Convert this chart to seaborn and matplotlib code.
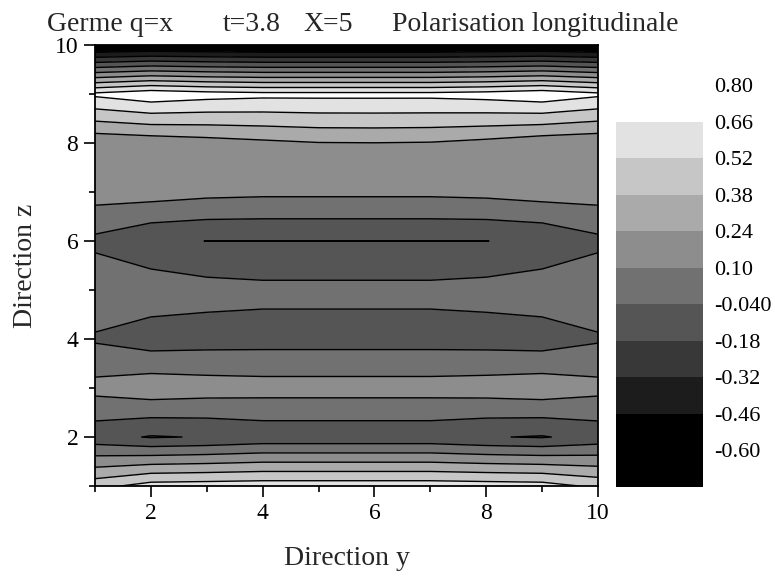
import numpy as np
import pandas as pd
import seaborn as sns
import matplotlib.pyplot as plt
from matplotlib.ticker import MultipleLocator

y_dir = [1, 2, 3, 4, 5, 6, 7, 8, 9, 10]
z_dir = [1, 2, 3, 4, 5, 6, 7, 8, 9, 10]

# polarisation values, one list per z row (columns follow y_dir)
row_z1 = [0.47, 0.58, 0.59, 0.60, 0.60, 0.60, 0.60, 0.59, 0.58, 0.49]
row_z2 = [-0.13, -0.19, -0.172, -0.14, -0.14, -0.14, -0.14, -0.172, -0.19, -0.13]
row_z3 = [0.145, 0.19, 0.17, 0.16, 0.16, 0.16, 0.16, 0.17, 0.19, 0.145]
row_z4 = [-0.057, -0.114, -0.10, -0.095, -0.095, -0.095, -0.095, -0.10, -0.114, -0.057]
row_z5 = [0.065, 0.05, 0.01, -0.005, -0.005, -0.005, -0.005, 0.01, 0.05, 0.065]
row_z6 = [-0.073, -0.16, -0.181, -0.181, -0.181, -0.181, -0.181, -0.181, -0.16, -0.073]
row_z7 = [0.164, 0.165, 0.14, 0.13, 0.13, 0.13, 0.13, 0.14, 0.165, 0.164]
row_z8 = [0.13, 0.15, 0.18, 0.21, 0.235, 0.238, 0.232, 0.20, 0.15, 0.13]
row_z9 = [0.69, 0.76, 0.72, 0.70, 0.70, 0.70, 0.70, 0.72, 0.76, 0.69]
row_z10 = [-0.66, -0.64, -0.65, -0.66, -0.66, -0.66, -0.66, -0.65, -0.64, -0.66]

levels = [-0.74, -0.60, -0.46, -0.32, -0.18, -0.04, 0.10, 0.24, 0.38, 0.52, 0.66, 0.80]
level_labels = ["-0.60", "-0.46", "-0.32", "-0.18", "-0.040", "0.10",
                "0.24", "0.38", "0.52", "0.66", "0.80"]
band_colors = ["#000000", "#000000", "#1c1c1c", "#383838", "#555555", "#717171",
               "#8d8d8d", "#aaaaaa", "#c6c6c6", "#e2e2e2", "#ffffff"]

df = pd.DataFrame([row_z1, row_z2, row_z3, row_z4, row_z5, row_z6, row_z7,
                   row_z8, row_z9, row_z10], index=z_dir, columns=y_dir)

sns.set_style("ticks")
plt.rcParams["font.family"] = ["Liberation Serif", "DejaVu Serif"]
plt.rcParams["xtick.color"] = "black"
plt.rcParams["ytick.color"] = "black"
plt.rcParams["axes.edgecolor"] = "black"
plt.rcParams["contour.negative_linestyle"] = "solid"

fig = plt.figure(figsize=(7.75, 5.76), dpi=100)
ax = fig.add_axes([0.1226, 0.1562, 0.6490, 0.7657])
cax = fig.add_axes([0.795, 0.1545, 0.112, 0.698])

cf = ax.contourf(df.columns, df.index, df.values, levels=levels, colors=band_colors)
ax.contour(df.columns, df.index, df.values, levels=levels, colors="black",
           linewidths=1.0, linestyles="solid")

ax.set_xlim(1, 10)
ax.set_ylim(1, 10)
ax.xaxis.set_major_locator(MultipleLocator(2))
ax.xaxis.set_minor_locator(MultipleLocator(1))
ax.yaxis.set_major_locator(MultipleLocator(2))
ax.yaxis.set_minor_locator(MultipleLocator(1))
ax.tick_params(which="major", direction="out", length=8, width=1.2, labelsize=17, pad=4)
ax.tick_params(which="minor", direction="out", length=4.5, width=1.2)
for s in ax.spines.values():
    s.set_linewidth(1.3)
    s.set_visible(True)

ax.set_xlabel("Direction y", fontsize=20, labelpad=16)
ax.set_ylabel("Direction z", fontsize=20, labelpad=12)

cb = fig.colorbar(cf, cax=cax)
cb.outline.set_visible(False)
cb.set_ticks(levels[1:])
cb.set_ticklabels(level_labels)
cax.tick_params(length=0, pad=8, labelsize=16)

fig.text(47 / 775, 1 - 31 / 576, "Germe q=x", fontsize=20, va="baseline")
fig.text(223 / 775, 1 - 31 / 576, "t=3.8", fontsize=20, va="baseline")
fig.text(303 / 775, 1 - 31 / 576, "X=5", fontsize=20, va="baseline")
fig.text(392 / 775, 1 - 31 / 576, "Polarisation longitudinale", fontsize=20, va="baseline")

fig.savefig("out.png", dpi=100)
